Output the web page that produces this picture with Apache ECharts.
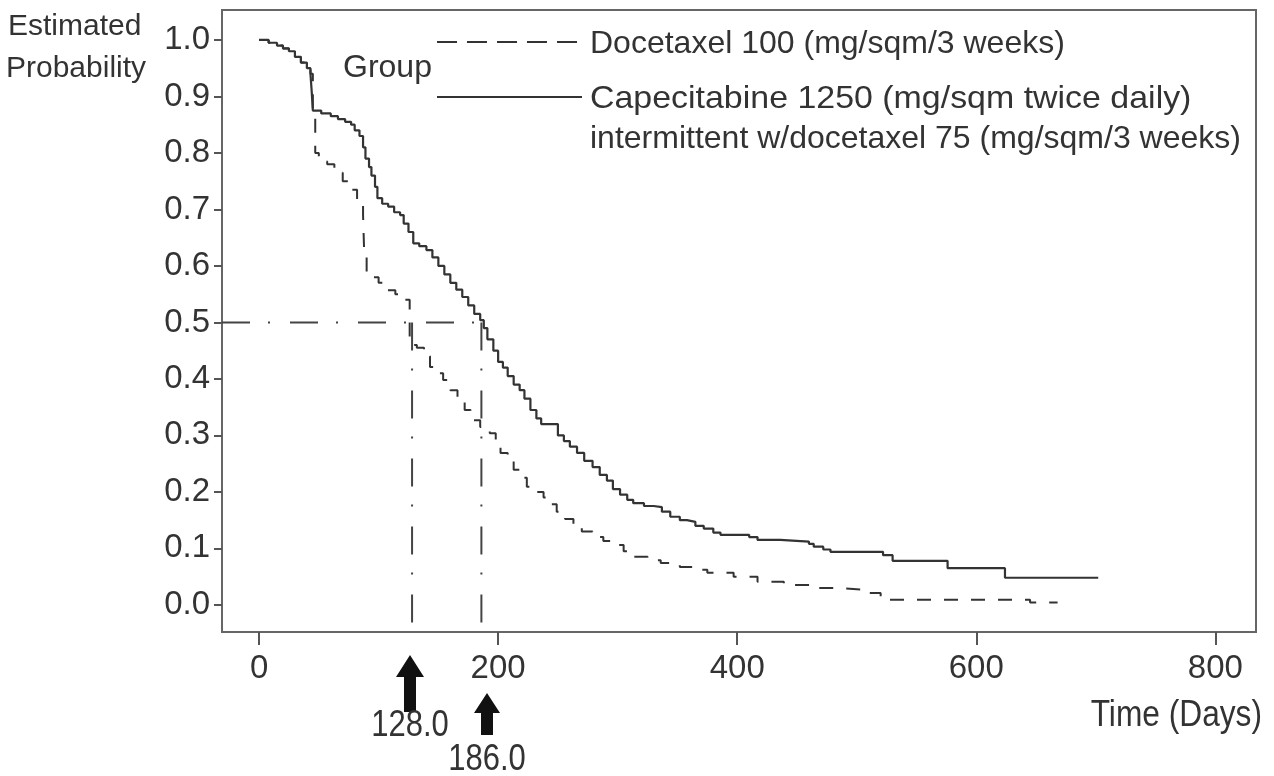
<!DOCTYPE html>
<html>
<head>
<meta charset="utf-8">
<script src="https://cdn.jsdelivr.net/npm/echarts@6/dist/echarts.min.js"></script>
<style>html,body{margin:0;padding:0;background:#fff;}#c{width:1274px;height:776px;}</style>
</head>
<body>
<div id="c"></div>
<script>
// ---- data ----
const capeTime = [0, 8, 15, 20, 25, 30, 35, 40, 43, 44, 45, 52, 60, 66, 72, 77, 80, 84, 87, 89, 92, 94, 97, 99, 103, 108, 113, 118, 121, 125, 129, 134, 140, 145, 150, 155, 160, 165, 170, 175, 180, 185, 188, 191, 196, 200, 204, 208, 213, 218, 222, 227, 232, 236, 250, 255, 260, 266, 272, 279, 285, 291, 296, 302, 308, 313, 322, 330, 337, 344, 352, 358, 365, 372, 380, 386, 410, 417, 436, 460, 464, 472, 478, 522, 530, 576, 624, 702];
const capeSurv = [1.0, 0.995, 0.99, 0.985, 0.98, 0.97, 0.96, 0.95, 0.94, 0.91, 0.875, 0.87, 0.865, 0.86, 0.855, 0.85, 0.84, 0.83, 0.81, 0.79, 0.775, 0.76, 0.74, 0.72, 0.71, 0.705, 0.695, 0.69, 0.675, 0.66, 0.64, 0.635, 0.628, 0.615, 0.6, 0.585, 0.57, 0.558, 0.545, 0.53, 0.515, 0.504, 0.49, 0.47, 0.45, 0.43, 0.42, 0.405, 0.39, 0.38, 0.365, 0.345, 0.33, 0.32, 0.3, 0.29, 0.28, 0.269, 0.255, 0.244, 0.23, 0.22, 0.205, 0.195, 0.186, 0.18, 0.175, 0.173, 0.165, 0.156, 0.15, 0.147, 0.14, 0.135, 0.128, 0.124, 0.12, 0.115, 0.112, 0.108, 0.103, 0.098, 0.094, 0.088, 0.078, 0.065, 0.048, 0.048];

const doceTime = [0, 8, 15, 20, 25, 30, 35, 40, 43, 45, 47, 50, 57, 63, 70, 76, 82, 87, 88, 90, 100, 107, 114, 120, 126, 132, 138, 143, 150, 154, 160, 166, 172, 177, 185, 193, 198, 202, 208, 213, 219, 224, 230, 238, 244, 249, 256, 263, 270, 279, 288, 296, 305, 313, 325, 336, 352, 365, 375, 397, 417, 439, 461, 484, 506, 520, 645, 668];
const doceSurv = [1.0, 0.995, 0.99, 0.985, 0.98, 0.97, 0.96, 0.95, 0.94, 0.87, 0.8, 0.785, 0.78, 0.765, 0.75, 0.735, 0.717, 0.69, 0.62, 0.58, 0.57, 0.557, 0.55, 0.54, 0.46, 0.455, 0.44, 0.421, 0.41, 0.398, 0.38, 0.363, 0.345, 0.327, 0.315, 0.304, 0.285, 0.269, 0.255, 0.239, 0.225, 0.209, 0.2, 0.19, 0.178, 0.165, 0.152, 0.138, 0.13, 0.12, 0.113, 0.106, 0.095, 0.085, 0.079, 0.074, 0.067, 0.062, 0.057, 0.05, 0.041, 0.035, 0.03, 0.027, 0.021, 0.009, 0.004, 0.004];

const medians = [128, 186];
const medianLevel = 0.5;
const xTicks = [0, 200, 400, 600, 800];
const yTicks = [0, 0.1, 0.2, 0.3, 0.4, 0.5, 0.6, 0.7, 0.8, 0.9, 1.0];
const seriesNames = ['Docetaxel 100 (mg/sqm/3 weeks)', 'Capecitabine 1250 (mg/sqm twice daily)', 'intermittent w/docetaxel 75 (mg/sqm/3 weeks)'];
const medianLabels = ['128.0', '186.0'];

// ---- build ----
const X_MIN = -31, X_MAX = 834, Y_MIN = -0.048, Y_MAX = 1.053;
const pair = (t, s) => t.map((v, i) => [v, s[i]]);
const INK = '#333';
const REF = '#444';
const dashDot = [28, 18, 2, 20];
const font = "'Liberation Sans', Arial, sans-serif";

const chart = echarts.init(document.getElementById('c'), null, {renderer: 'canvas'});
const option = {
  animation: false,
  backgroundColor: '#fff',
  grid: {left: 222, right: 18, top: 10, bottom: 144, show: true, borderColor: '#666', borderWidth: 2, backgroundColor: 'transparent'},
  xAxis: {
    type: 'value', min: X_MIN, max: X_MAX,
    splitLine: {show: false},
    axisLine: {show: true, onZero: false, lineStyle: {color: '#666', width: 2}},
    axisTick: {show: true, customValues: xTicks, length: 13, lineStyle: {color: '#555', width: 2}},
    axisLabel: {customValues: xTicks, margin: 20, fontFamily: font, fontSize: 33, color: '#333'}
  },
  yAxis: {
    type: 'value', min: Y_MIN, max: Y_MAX,
    splitLine: {show: false},
    axisLine: {show: true, onZero: false, lineStyle: {color: '#666', width: 2}},
    axisTick: {show: true, customValues: yTicks, length: 8, lineStyle: {color: '#555', width: 2}},
    axisLabel: {customValues: yTicks, margin: 12, fontFamily: font, fontSize: 33, color: '#333', formatter: v => v.toFixed(1)}
  },
  series: [
    {type: 'line', name: seriesNames[0], step: 'end', showSymbol: false, symbol: 'none', data: pair(doceTime, doceSurv),
      lineStyle: {color: INK, width: 2, type: [14, 13]}},
    {type: 'line', name: seriesNames[1], step: 'end', showSymbol: false, symbol: 'none', data: pair(capeTime, capeSurv),
      lineStyle: {color: INK, width: 2.2}},
    {type: 'line', showSymbol: false, symbol: 'none', data: [[X_MIN, medianLevel], [medians[1], medianLevel]],
      lineStyle: {color: REF, width: 2, type: dashDot}},
    {type: 'line', showSymbol: false, symbol: 'none', data: [[medians[0], medianLevel], [medians[0], Y_MIN]],
      lineStyle: {color: REF, width: 2, type: dashDot}},
    {type: 'line', showSymbol: false, symbol: 'none', data: [[medians[1], medianLevel], [medians[1], Y_MIN]],
      lineStyle: {color: REF, width: 2, type: dashDot}}
  ],
  graphic: [
    {type: 'text', left: 8, top: 12, style: {text: 'Estimated', font: "30px " + font, fill: '#333'}},
    {type: 'text', left: 6, top: 54, style: {text: 'Probability', font: "30px " + font, fill: '#333'}},
    {type: 'text', left: 343, top: 52, style: {text: 'Group', font: "32px " + font, fill: '#333'}},
    {type: 'line', shape: {x1: 437, y1: 42, x2: 582, y2: 42}, style: {stroke: INK, lineWidth: 2, lineDash: [20, 10]}},
    {type: 'line', shape: {x1: 437, y1: 97, x2: 582, y2: 97}, style: {stroke: INK, lineWidth: 2}},
    {type: 'text', x: 590, y: 44, style: {text: seriesNames[0], font: "32px " + font, fill: '#333', verticalAlign: 'middle'}},
    {type: 'text', x: 590, y: 99, scaleX: 1.06, style: {text: seriesNames[1], font: "32px " + font, fill: '#333', verticalAlign: 'middle'}},
    {type: 'text', x: 590, y: 139, style: {text: seriesNames[2], font: "32px " + font, fill: '#333', verticalAlign: 'middle'}},
    {type: 'polygon', shape: {points: [[410, 655], [424, 677], [416, 677], [416, 712], [404, 712], [404, 677], [396, 677]]}, style: {fill: '#111'}},
    {type: 'polygon', shape: {points: [[487, 693], [500, 713], [493, 713], [493, 735], [481, 735], [481, 713], [474, 713]]}, style: {fill: '#111'}},
    {type: 'text', x: 410, y: 726, scaleX: 0.86, style: {text: medianLabels[0], font: "36px " + font, fill: '#333', align: 'center', verticalAlign: 'middle'}},
    {type: 'text', x: 487, y: 760, scaleX: 0.86, style: {text: medianLabels[1], font: "36px " + font, fill: '#333', align: 'center', verticalAlign: 'middle'}},
    {type: 'text', x: 1262, y: 716, scaleX: 0.88, style: {text: 'Time (Days)', font: "36px " + font, fill: '#333', align: 'right', verticalAlign: 'middle'}}
  ]
};
chart.setOption(option);
</script>
</body>
</html>
